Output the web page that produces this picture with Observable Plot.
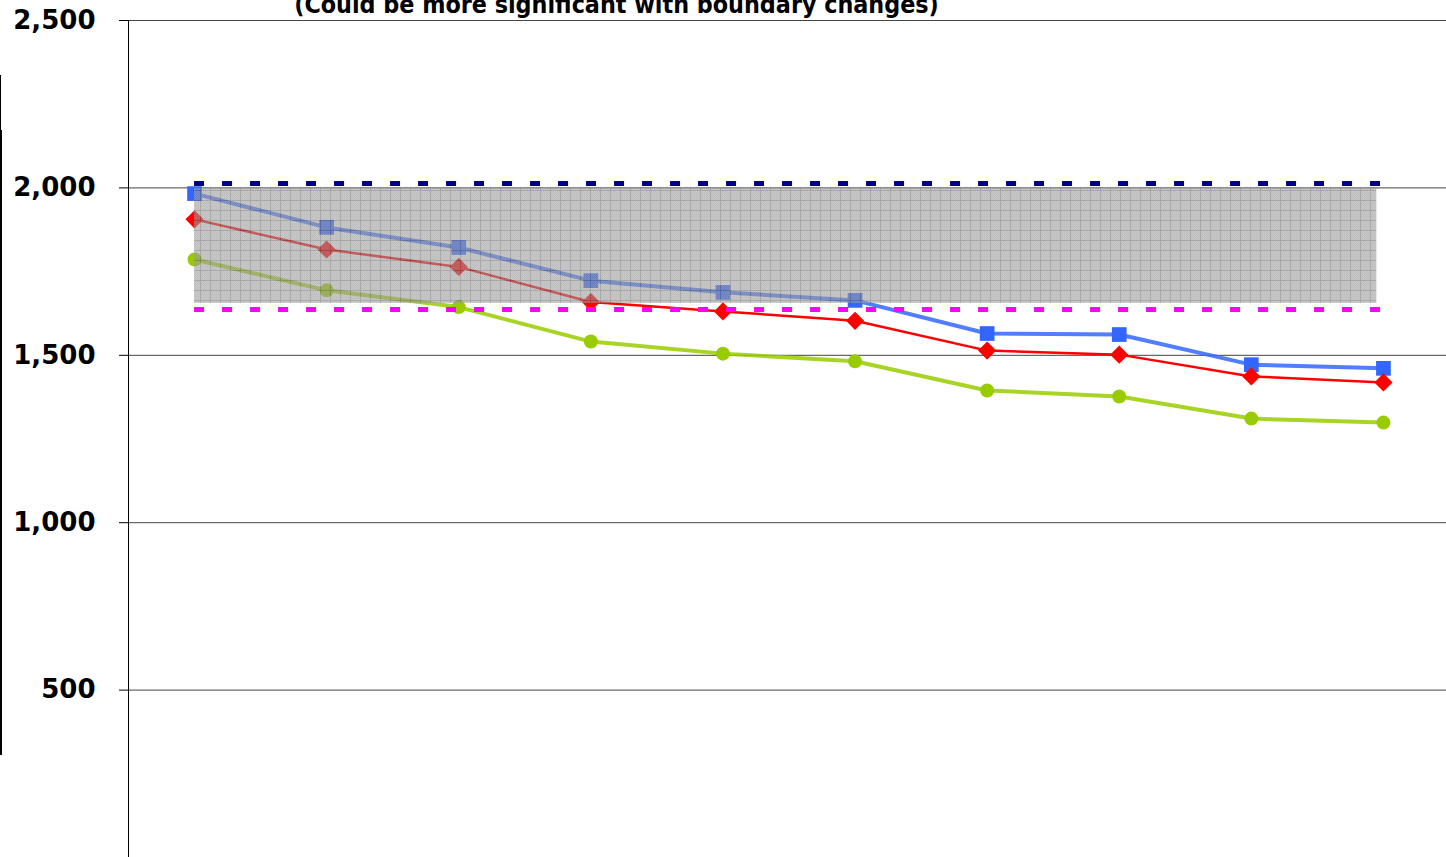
<!DOCTYPE html>
<html>
<head>
<meta charset="utf-8">
<script src="https://cdn.jsdelivr.net/npm/d3@7"></script>
<script src="https://cdn.jsdelivr.net/npm/@observablehq/plot@0.6"></script>
<style>
  html, body { margin: 0; padding: 0; background: #fff; overflow: hidden; }
  #wrap { position: relative; width: 1446px; height: 857px; overflow: hidden; }
  #title { position: absolute; left: 0; width: 1233px; top: -7px; text-align: center;
           font-family: "DejaVu Sans Condensed", "DejaVu Sans"; font-weight: bold; font-size: 24.8px;
           line-height: 24px; color: #000; white-space: nowrap; z-index: 2; }
  #edgeA { position: absolute; left: 0; top: 75px; width: 1px; height: 55px; background: #000; }
  #edgeB { position: absolute; left: 0; top: 130px; width: 2px; height: 625px; background: #000; }
  #chart { position: absolute; left: 0; top: 0; }
</style>
</head>
<body>
<div id="wrap">
  <div id="chart"></div>
  <div id="title">(Could be more significant with boundary changes)</div>
  <div id="edgeA"></div>
  <div id="edgeB"></div>
</div>
<script>
// ---- data ----
const categories = ["1", "2", "3", "4", "5", "6", "7", "8", "9", "10"];
const blueValues  = [1983, 1882, 1822, 1723, 1688, 1664, 1565, 1562, 1472, 1461];
const redValues   = [1906, 1816, 1764, 1659, 1631, 1603, 1514, 1502, 1437, 1419];
const greenValues = [1786, 1694, 1644, 1541, 1505, 1482, 1395, 1377, 1311, 1299];
const upperLimit = 2013;
const lowerLimit = 1637;
const bandTop = 1998;
const bandBottom = 1655;
const bandStart = 0;
const bandEnd = 8.95;
const yTicks = [500, 1000, 1500, 2000, 2500];

const xi = (d, i) => i;
const yv = d => d;

const chart = Plot.plot({
  width: 1446,
  height: 857,
  marginTop: 20,
  marginBottom: 0,
  marginLeft: 128,
  marginRight: 0,
  x: { type: "linear", domain: [-0.5, categories.length - 0.5], range: [128, 1449], axis: null },
  y: { domain: [0, 2500], axis: null },
  style: { background: "#fff", color: "#000", overflow: "hidden" },
  marks: [
    Plot.gridY(yTicks, { stroke: "#444", strokeOpacity: 1, strokeWidth: 1 }),
    Plot.axisY(yTicks, {
      tickSize: 9, tickPadding: 24, tickFormat: d3.format(","), label: null,
      fontFamily: "DejaVu Sans", fontWeight: "bold", fontSize: 26, stroke: "#000"
    }),
    Plot.ruleX([-0.5], { stroke: "#000", strokeWidth: 1 }),
    Plot.line(greenValues, { x: xi, y: yv, stroke: "#99cc00", strokeWidth: 4, strokeOpacity: 0.85 }),
    Plot.line(blueValues,  { x: xi, y: yv, stroke: "#3366ff", strokeWidth: 4, strokeOpacity: 0.85 }),
    Plot.line(redValues,   { x: xi, y: yv, stroke: "#ff0000", strokeWidth: 2.5 }),
    Plot.dot(greenValues, { x: xi, y: yv, symbol: "circle", r: 7, fill: "#99cc00", stroke: "none" }),
    Plot.dot(blueValues,  { x: xi, y: yv, symbol: "square", r: 8.3, fill: "#3366ff", stroke: "none" }),
    Plot.dot(redValues,   { x: xi, y: yv, symbol: "diamond2", r: 8.2, fill: "#ff0000", stroke: "none" }),
    Plot.rect([{ x1: bandStart, x2: bandEnd, y1: bandBottom, y2: bandTop }],
      { x1: "x1", x2: "x2", y1: "y1", y2: "y2", fill: "url(#hatch)", fillOpacity: 0.6, inset: 0 }),
    Plot.ruleY([upperLimit], { x1: 0, x2: categories.length - 1, stroke: "#000080", strokeWidth: 5, strokeDasharray: "10,18" }),
    Plot.ruleY([lowerLimit], { x1: 0, x2: categories.length - 1, stroke: "#ff00ff", strokeWidth: 5, strokeDasharray: "10,18" })
  ]
});

// pattern definitions for the shaded band
const svg = d3.select(chart);
const defs = svg.insert("defs", ":first-child");
const dither = defs.append("pattern").attr("id", "dither").attr("patternUnits", "userSpaceOnUse")
  .attr("width", 2).attr("height", 2);
dither.append("rect").attr("width", 2).attr("height", 2).attr("fill", "#a3a3a3");
dither.append("rect").attr("x", 0).attr("y", 0).attr("width", 1).attr("height", 1).attr("fill", "#909090");
dither.append("rect").attr("x", 1).attr("y", 1).attr("width", 1).attr("height", 1).attr("fill", "#989898");
const hatch = defs.append("pattern").attr("id", "hatch").attr("patternUnits", "userSpaceOnUse")
  .attr("width", 10).attr("height", 10);
hatch.append("rect").attr("width", 10).attr("height", 10).attr("fill", "url(#dither)");
hatch.append("rect").attr("x", 0).attr("y", 0).attr("width", 10).attr("height", 1).attr("fill", "#6e6e6e");
hatch.append("rect").attr("x", 0).attr("y", 0).attr("width", 1).attr("height", 10).attr("fill", "#6e6e6e");

document.getElementById("chart").appendChild(chart);
</script>
</body>
</html>
